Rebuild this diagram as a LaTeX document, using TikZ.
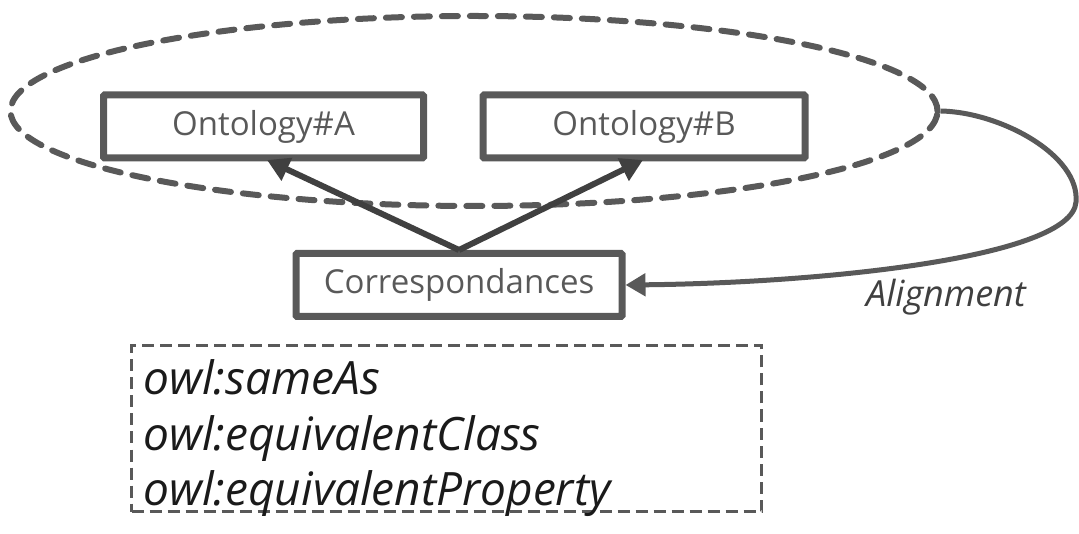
\documentclass[tikz,border=0pt]{standalone}
\usepackage{fontspec}
\setmainfont{Open Sans}
\usetikzlibrary{shapes.geometric,arrows.meta}
\definecolor{lg}{HTML}{595959}
\definecolor{dg}{HTML}{404040}
\definecolor{tx}{HTML}{1A1A1A}
\tikzset{
  ontobox/.style={draw=lg,line width=7pt,rounded corners=1pt,minimum height=63pt,text=lg,font=\fontsize{33}{38}\selectfont,inner sep=0pt},
  dasheli/.style={draw=lg,line width=6pt,dash pattern=on 16pt off 12pt,line cap=round,ellipse,inner sep=0pt},
  owlbox/.style={draw=lg,line width=3.5pt,dash pattern=on 12pt off 6pt,inner sep=0pt},
  owltext/.style={anchor=base west,text=tx,font=\fontsize{46}{50}\selectfont\itshape},
  relarrow/.style={draw=dg,line width=6pt,-{Triangle[length=22pt,width=24pt]}},
  alarrow/.style={draw=lg,line width=5pt,-{Triangle[length=20pt,width=22pt]}}
}
\begin{document}
\begin{tikzpicture}[x=1pt,y=-1pt]
\useasboundingbox (0,0) rectangle (1079,534);
\node[dasheli,minimum width=927pt,minimum height=190pt] (ell) at (474,111) {};
\node[ontobox,minimum width=320pt] (a) at (263.5,126.5) {Ontology\#A};
\node[ontobox,minimum width=322pt] (b) at (644,126.5) {Ontology\#B};
\node[ontobox,minimum width=326pt] (c) at (459,285) {Correspondances};
\coordinate (ta) at (267,160);
\coordinate (tb) at (643,160);
\coordinate (r) at (1076,202);
\draw[relarrow] (c.north) -- (ta);
\draw[relarrow] (c.north) -- (tb);
\draw[alarrow] (ell.east) .. controls (1000,112) and (1080,155) .. (r) .. controls (1072,258) and (820,283) .. (c.east);
\node[text=dg,font=\fontsize{36}{40}\selectfont\itshape] (al) at (946,297) {Alignment};
\node[owlbox,minimum width=630pt,minimum height=166pt] (box) at (446.5,428.5) {};
\node[owltext] (o1) at (140,395) {owl:sameAs};
\node[owltext] (o2) at (140,450) {owl:equivalentClass};
\node[owltext] (o3) at (140,505) {owl:equivalentProperty};
\end{tikzpicture}
\end{document}
